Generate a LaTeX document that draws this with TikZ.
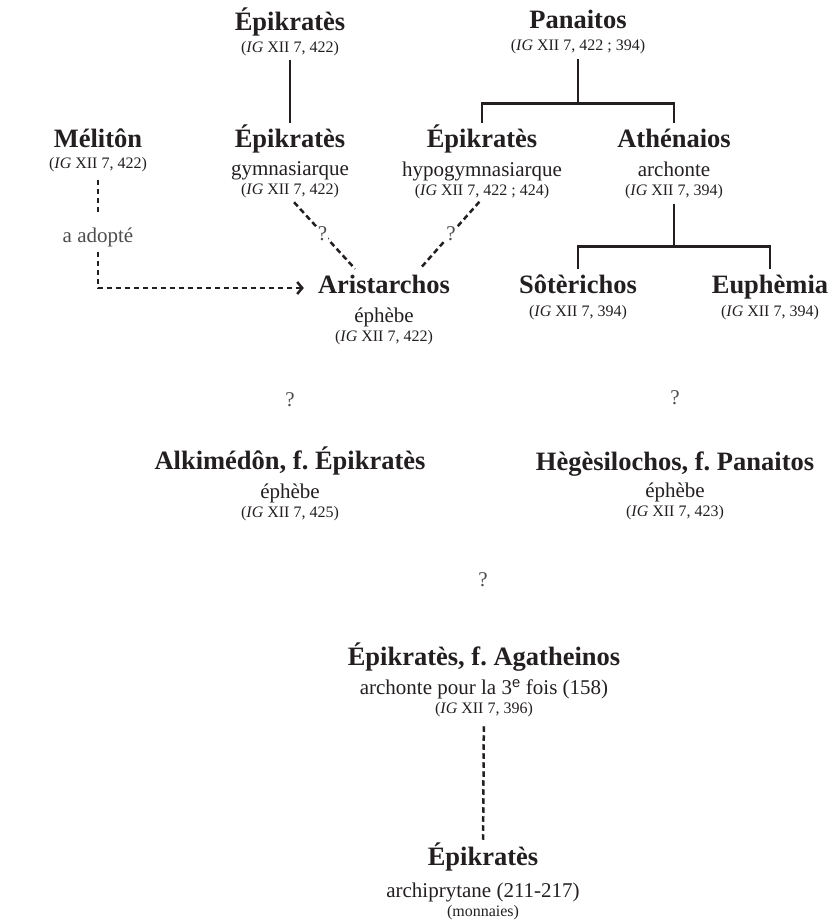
\documentclass[tikz,border=0pt]{standalone}
\usepackage{fontspec}
\setmainfont{Liberation Serif}
\newfontfamily\supsans{Liberation Sans}
\usetikzlibrary{arrows.meta}

\definecolor{ink}{HTML}{231F20}
\definecolor{faint}{HTML}{4D4D4D}

\newcommand{\igref}[1]{(\textit{IG} XII 7, #1)}
\newcommand{\rolestrut}{\rule{0pt}{15pt}}
\newcommand{\refstrut}{\rule{0pt}{12pt}}
\newcommand{\role}[1]{{\fontsize{21}{24}\selectfont\rolestrut #1}}

\tikzset{
  pname/.style={anchor=base, inner sep=0pt, text=ink, text height=24pt, text depth=6pt,
    font=\fontsize{26.5}{30}\selectfont\bfseries},
  pinfo/.style={anchor=north, inner sep=0pt, text=ink, align=center,
    font=\fontsize{16}{19}\selectfont},
  tie/.style={draw=ink, line width=2.7pt},
  doubt/.style={draw=ink, line width=2.5pt, dash pattern=on 5.5pt off 3.5pt},
  qmark/.style={text=faint, inner sep=1pt, font=\fontsize{21}{24}\selectfont}
}

\begin{document}
\frenchspacing
\begin{tikzpicture}[x=1pt, y=-1pt]
  \useasboundingbox (0,0) rectangle (837,922);
  % first generation
  \node[pname] (epiA) at (290,30) {Épikratès};
  \node[pinfo] (epiA-i) at (290,40) {\refstrut\igref{422}};
  \node[pname] (pan) at (578,28) {Panaitos};
  \node[pinfo] (pan-i) at (578,38) {\refstrut\igref{422 ; 394}};
  % second generation
  \node[pname] (mel) at (98,147) {Mélitôn};
  \node[pinfo] (mel-i) at (98,156) {\refstrut\igref{422}};
  \node[pname] (epiG) at (290,147) {Épikratès};
  \node[pinfo] (epiG-i) at (290,160) {\role{gymnasiarque}\\\igref{422}};
  \node[pname] (epiH) at (482,147) {Épikratès};
  \node[pinfo] (epiH-i) at (482,161) {\role{hypogymnasiarque}\\\igref{422 ; 424}};
  \node[pname] (ath) at (674,147) {Athénaios};
  \node[pinfo] (ath-i) at (674,161) {\role{archonte}\\\igref{394}};
  \node[qmark, inner sep=0pt, anchor=base] (adopt) at (98,242) {a adopté};
  % third generation
  \node[pname] (ari) at (384,293) {Aristarchos};
  \node[pinfo] (ari-i) at (384,307) {\role{éphèbe}\\\igref{422}};
  \node[pname] (sot) at (578,293) {Sôtèrichos};
  \node[pinfo] (sot-i) at (578,304) {\refstrut\igref{394}};
  \node[pname] (eup) at (770,293) {Euphèmia};
  \node[pinfo] (eup-i) at (770,304) {\refstrut\igref{394}};
  \node[qmark] (q1) at (290,400) {?};
  \node[qmark] (q2) at (675,398) {?};
  % ephebes
  \node[pname] (alk) at (290,469) {Alkimédôn, f. Épikratès};
  \node[pinfo] (alk-i) at (290,483) {\role{éphèbe}\\\igref{425}};
  \node[pname] (heg) at (675,470) {Hègèsilochos, f. Panaitos};
  \node[pinfo] (heg-i) at (675,482) {\role{éphèbe}\\\igref{423}};
  \node[qmark] (q3) at (483,580) {?};
  % later
  \node[pname] (agat) at (484,665) {Épikratès, f. Agatheinos};
  \node[pinfo] (agat-i) at (484,679) {\role{archonte pour la 3\textsuperscript{\supsans e} fois (158)}\\\igref{396}};
  \node[pname] (epiB) at (483,865) {Épikratès};
  \node[pinfo] (epiB-i) at (483,882) {\role{archiprytane (211-217)}\\(monnaies)};

  \draw[tie, shorten <=4pt] (epiA-i) -- (epiG);
  \draw[tie, shorten <=5pt] (pan-i.south) -- ++(0,50) coordinate (panbar);
  \draw[tie] (epiH.north) |- (panbar) -| (ath.north);
  \draw[tie, shorten <=5pt] (ath-i.south) -- ++(0,48) coordinate (athbar);
  \draw[tie] (sot.north) |- (athbar) -| (eup.north);
  \draw[doubt, shorten <=6pt] (epiG-i.south) -- ([xshift=-29pt]ari.north)
    node[midway, qmark, fill=white] {?};
  \draw[doubt, shorten <=4pt, shorten >=3pt] (epiH-i.south) -- ([xshift=36pt]ari.north)
    node[midway, qmark, fill=white] {?};
  \draw[doubt, shorten <=8pt, shorten >=14pt] (mel-i) -- (adopt);
  \draw[doubt, shorten <=5pt, shorten >=14pt, -{Straight Barb[length=5pt, width=12pt]}]
    (adopt) |- ([yshift=5pt]ari.base west);
  \draw[doubt, shorten <=9pt] (agat-i) -- (epiB);
\end{tikzpicture}
\end{document}
